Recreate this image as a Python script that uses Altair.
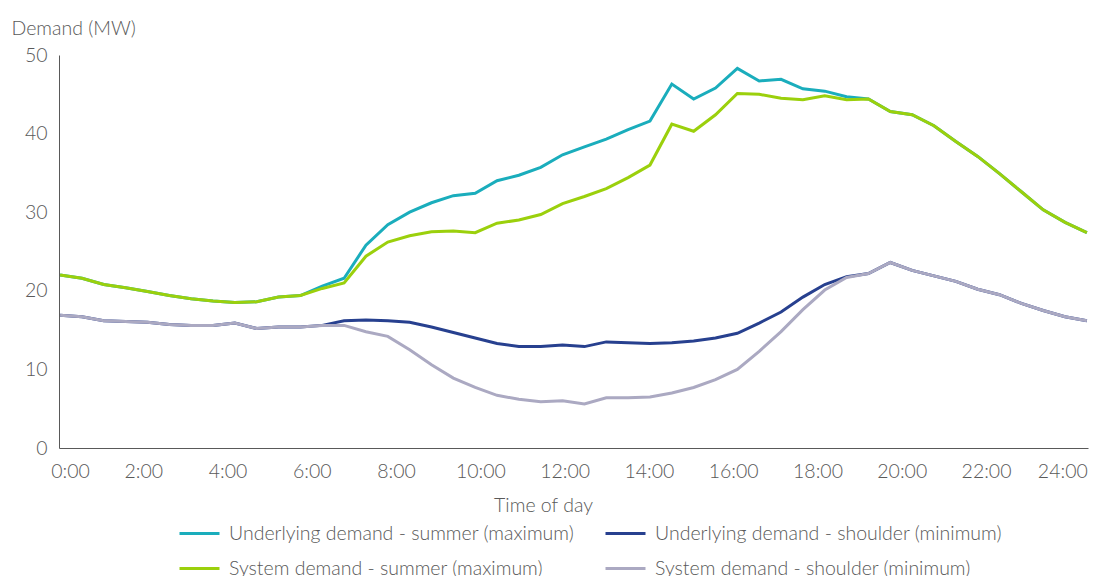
import altair as alt
import pandas as pd

# Half-hourly intervals (48 per day)
times = ["0:00", "0:30", "1:00", "1:30", "2:00", "2:30", "3:00", "3:30",
         "4:00", "4:30", "5:00", "5:30", "6:00", "6:30", "7:00", "7:30",
         "8:00", "8:30", "9:00", "9:30", "10:00", "10:30", "11:00", "11:30",
         "12:00", "12:30", "13:00", "13:30", "14:00", "14:30", "15:00", "15:30",
         "16:00", "16:30", "17:00", "17:30", "18:00", "18:30", "19:00", "19:30",
         "20:00", "20:30", "21:00", "21:30", "22:00", "22:30", "23:00", "23:30"]

underlying_summer = [22.0, 21.6, 20.8, 20.4, 19.9, 19.4, 19.0, 18.7, 18.5, 18.6, 19.2, 19.4,
                     20.6, 21.6, 25.8, 28.4, 30.0, 31.2, 32.1, 32.4, 34.0, 34.7, 35.7, 37.3,
                     38.3, 39.3, 40.5, 41.6, 46.3, 44.4, 45.8, 48.3, 46.7, 46.9, 45.7, 45.4,
                     44.7, 44.4, 42.8, 42.4, 41.0, 39.0, 37.1, 34.9, 32.6, 30.3, 28.7, 27.4]
system_summer = [22.0, 21.6, 20.8, 20.4, 19.9, 19.4, 19.0, 18.7, 18.5, 18.6, 19.2, 19.4,
                 20.3, 21.0, 24.4, 26.2, 27.0, 27.5, 27.6, 27.4, 28.6, 29.0, 29.7, 31.1,
                 32.0, 33.0, 34.4, 36.0, 41.2, 40.3, 42.4, 45.1, 45.0, 44.5, 44.3, 44.8,
                 44.3, 44.4, 42.8, 42.4, 41.0, 39.0, 37.1, 34.9, 32.6, 30.3, 28.7, 27.4]
underlying_shoulder = [16.9, 16.7, 16.2, 16.1, 16.0, 15.7, 15.6, 15.6, 15.9, 15.2, 15.4, 15.4,
                       15.6, 16.2, 16.3, 16.2, 16.0, 15.4, 14.7, 14.0, 13.3, 12.9, 12.9, 13.1,
                       12.9, 13.5, 13.4, 13.3, 13.4, 13.6, 14.0, 14.6, 15.9, 17.3, 19.2, 20.8,
                       21.8, 22.2, 23.6, 22.6, 21.9, 21.2, 20.2, 19.5, 18.4, 17.5, 16.7, 16.2]
system_shoulder = [16.9, 16.7, 16.2, 16.1, 16.0, 15.7, 15.6, 15.6, 15.9, 15.2, 15.4, 15.4,
                   15.6, 15.6, 14.8, 14.2, 12.5, 10.6, 8.9, 7.7, 6.7, 6.2, 5.9, 6.0,
                   5.6, 6.4, 6.4, 6.5, 7.0, 7.7, 8.7, 10.0, 12.3, 14.8, 17.6, 20.1,
                   21.7, 22.2, 23.6, 22.6, 21.9, 21.2, 20.2, 19.5, 18.4, 17.5, 16.7, 16.2]

# Legend order (filled column by column)
series_names = ["Underlying demand - summer (maximum)",
                "System demand - summer (maximum)",
                "Underlying demand - shoulder (minimum)",
                "System demand - shoulder (minimum)"]
series_colors = ["#1AADBC", "#9BD00C", "#27408F", "#ABA9C2"]

tick_hours = [0, 2, 4, 6, 8, 10, 12, 14, 16, 18, 20, 22, 24]
tick_labels = ["0:00", "2:00", "4:00", "6:00", "8:00", "10:00", "12:00",
               "14:00", "16:00", "18:00", "20:00", "22:00", "24:00"]
y_ticks = [0, 10, 20, 30, 40, 50]

rows = []
for name, vals in zip(series_names, [underlying_summer, system_summer,
                                     underlying_shoulder, system_shoulder]):
    for slot, (t, v) in enumerate(zip(times, vals)):
        rows.append({"series": name, "time": t, "slot": slot, "demand": v})
df = pd.DataFrame(rows)

TEXT = "#595959"
FONT = "Lato"
FS = 19.5

label_expr = "".join(f"datum.value == {h} ? '{l}' : " for h, l in zip(tick_hours, tick_labels)) + "''"

y_enc = alt.Y("demand:Q",
              scale=alt.Scale(domain=[0, 50], nice=False, zero=True),
              axis=alt.Axis(values=y_ticks, ticks=False, tickSize=0, grid=False,
                            domainColor=TEXT, domainWidth=1,
                            labelFont=FONT, labelFontSize=FS, labelColor=TEXT,
                            labelFontWeight=300, labelPadding=12,
                            title="Demand (MW)", titleAngle=0, titleX=-48, titleY=-27,
                            titleAlign="left", titleBaseline="middle",
                            titleFont=FONT, titleFontSize=FS, titleFontWeight=300,
                            titleColor=TEXT))

x_enc = alt.X("slot:Q", scale=alt.Scale(domain=[-0.05, 47.05], nice=False, zero=False),
              axis=None)

color_enc = alt.Color("series:N",
                      scale=alt.Scale(domain=series_names, range=series_colors),
                      legend=alt.Legend(orient="none", legendX=129, legendY=467,
                                        columns=2, title=None,
                                        symbolType="M-2,0H2", symbolSize=400,
                                        symbolStrokeWidth=3,
                                        labelFont=FONT, labelFontSize=FS,
                                        labelFontWeight=300,
                                        labelColor=TEXT, labelLimit=0,
                                        labelOffset=18, columnPadding=24,
                                        rowPadding=14, padding=0))

underlying = alt.Chart(df).transform_filter(
    alt.FieldOneOfPredicate(field="series", oneOf=[series_names[0], series_names[2]])
).mark_line(strokeWidth=3).encode(x=x_enc, y=y_enc, color=color_enc, order="slot:Q")

system = alt.Chart(df).transform_filter(
    alt.FieldOneOfPredicate(field="series", oneOf=[series_names[1], series_names[3]])
).mark_line(strokeWidth=3).encode(x=x_enc, y=y_enc, color=color_enc, order="slot:Q")

axis_layer = alt.Chart(pd.DataFrame({"hour": tick_hours, "label": tick_labels})).mark_point(
    opacity=0
).encode(
    x=alt.X("hour:Q", scale=alt.Scale(domain=[0, 24.42], nice=False, zero=False),
            axis=alt.Axis(values=tick_hours, labelExpr=label_expr, orient="bottom",
                          ticks=False, tickSize=0, grid=False, labelFlush=False,
                          domainColor=TEXT, domainWidth=1,
                          labelFont=FONT, labelFontSize=FS, labelColor=TEXT,
                          labelFontWeight=300, labelPadding=14,
                          labelOffset={"condition": [
                              {"test": "datum.value == 0", "value": 11},
                              {"test": "datum.value == 24", "value": -8}],
                              "value": 0},
                          title="Time of day", titleX=484, titleY=57,
                          titleAlign="center", titleBaseline="middle",
                          titleFont=FONT, titleFontSize=FS, titleFontWeight=300,
                          titleColor=TEXT))
)

chart = alt.layer(underlying, system, axis_layer).resolve_scale(
    x="independent"
).properties(
    width=1029, height=393,
    padding={"left": 51, "top": 47, "right": 1, "bottom": 128},
    autosize=alt.AutoSizeParams(type="none"),
).configure(font=FONT).configure_view(stroke=None)

chart.save("out.html", embed_options={"renderer": "svg", "actions": False})
